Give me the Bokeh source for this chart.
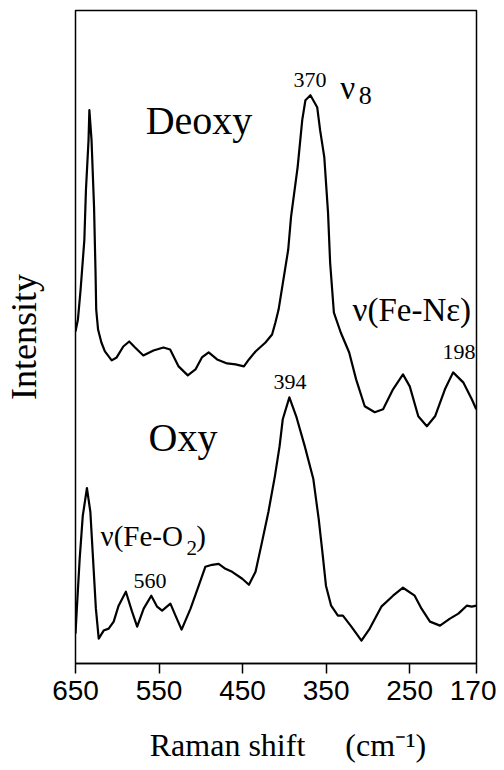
from bokeh.plotting import figure
from bokeh.models import Range1d, FixedTicker, Label
from bokeh.embed import file_html
from bokeh.resources import INLINE

# Raman shift (cm-1) and intensity (arbitrary units)
deoxy_shift = [650, 647.1, 643.9, 639.4, 637.5, 634.4, 633.4, 630.8, 627.8, 626, 625.2, 623, 619,
               614.8, 606.7, 600.7, 592.8, 585.7, 578.7, 568.8, 556.7, 544.7, 536.7, 526.6,
               515.6, 506.4, 498.7, 490.6, 480.5, 468.5, 458.4, 448.4, 442.4, 434.5, 422.6,
               414.7, 410.7, 406.9, 395.4, 392, 384.1, 378.6, 374.8, 368.8, 360.7, 357.2, 352.2,
               347.7, 345.2, 340.7, 332.5, 322.4, 314.1, 303.8, 291.8, 281.8, 269.9, 258, 249.9,
               239.7, 229.4, 219.6, 207.8, 198, 185.9, 175.6, 170.3]
deoxy_intensity = [333, 345, 375, 425, 475, 525, 555, 525, 458, 392, 355, 335, 322,
                   313, 304, 307, 318, 323, 317, 309, 314, 317, 315, 298,
                   289, 295, 307, 312, 305, 301, 300, 298, 305, 313, 322,
                   330, 342, 355, 415, 448, 498, 545, 565, 570, 558, 535, 508,
                   452, 402, 352, 332, 312, 285, 258, 252, 255, 275, 290, 278,
                   248, 238, 248, 275, 292, 282, 265, 255]

oxy_shift = [650, 648.4, 645, 641.3, 636.3, 632.2, 629, 625.6, 622.2, 616.3, 610.3, 604.3, 598.4,
             589.7, 582.3, 576.2, 568.4, 559.3, 552.3, 546.3, 536.4, 530.3, 523, 512.3, 502.5,
             494.6, 486.5, 478.6, 470.5, 462.5, 450.4, 442.4, 434.5, 426.7, 419.1, 411.3, 405.7,
             401.9, 394, 385.8, 375.6, 365.3, 358.9, 354.5, 350.2, 344, 335.9, 329.9, 319.8,
             307.7, 297.8, 283.9, 269.9, 258, 244, 235.8, 225.7, 213.7, 201.8, 191.7, 181.7,
             175.7, 170]
oxy_intensity = [30, 55, 105, 148, 176, 152, 105, 55, 25, 33, 35, 42, 58,
                 72, 52, 37, 55, 68, 57, 53, 60, 48, 34, 55, 78,
                 97, 99, 100, 95, 92, 85, 79, 92, 122, 152, 188, 218,
                 245, 267, 248, 218, 185, 145, 112, 78, 58, 48, 48, 37,
                 23, 35, 57, 68, 76, 68, 55, 42, 38, 45, 50, 58,
                 57, 58]

tick_values = [650, 550, 450, 350, 250, 170]

SERIF = "Liberation Serif"
SANS = "Liberation Sans"

p = figure(width=496, height=765, output_backend="svg", toolbar_location=None,
           x_range=Range1d(650, 170), y_range=Range1d(0, 655),
           min_border_left=75, min_border_right=20, min_border_top=10, min_border_bottom=100)
p.background_fill_color = "white"
p.border_fill_color = "white"
p.grid.visible = False
p.outline_line_color = "black"
p.outline_line_width = 1.5

ax = p.xaxis[0]
ax.ticker = FixedTicker(ticks=tick_values)
ax.axis_line_width = 1.5
ax.axis_line_color = "black"
ax.major_tick_line_width = 1.5
ax.major_tick_in = 0
ax.major_tick_out = 10
ax.minor_tick_line_color = None
ax.major_label_text_font = SANS
ax.major_label_text_font_size = "28px"
ax.major_label_text_color = "black"
ax.major_label_standoff = 7
ax.axis_label = "\u00a0\u00a0\u00a0Raman shift\u00a0\u00a0\u00a0\u00a0\u00a0(cm\u207b\u00b9)"
ax.axis_label_text_font = SERIF
ax.axis_label_text_font_size = "32px"
ax.axis_label_text_font_style = "normal"
ax.axis_label_text_color = "black"
ax.axis_label_standoff = 24

ay = p.yaxis[0]
ay.ticker = FixedTicker(ticks=[])
ay.axis_line_color = None
ay.major_tick_line_color = None
ay.minor_tick_line_color = None
ay.axis_label = "Intensity"
ay.axis_label_text_font = SERIF
ay.axis_label_text_font_size = "36px"
ay.axis_label_text_font_style = "normal"
ay.axis_label_text_color = "black"
ay.axis_label_standoff = 32

p.line(deoxy_shift, deoxy_intensity, line_color="black", line_width=2.2, line_join="round")
p.line(oxy_shift, oxy_intensity, line_color="black", line_width=2.2, line_join="round")


def lab(text, x, y, size, align="left", baseline="middle"):
    p.add_layout(Label(x=x, y=y, text=text, text_font=SERIF, text_font_size=f"{size}px",
                       text_align=align, text_baseline=baseline, text_color="black"))


lab("Deoxy", 566, 545, 40)
lab("370", 389, 585, 22)
lab("ν", 333, 577, 33, baseline="alphabetic")
lab("8", 311, 570, 26, baseline="alphabetic")
lab("ν(Fe-Nε)", 318.4, 355, 33)
lab("198", 210.7, 312, 22)
lab("394", 413, 282, 22)
lab("Oxy", 562.6, 227, 40)
lab("ν(Fe-O", 620, 128, 29)
lab("2", 517, 116, 21)
lab(")", 505.5, 128, 29)
lab("560", 580.6, 83, 22)

open("out.html", "w").write(file_html(p, INLINE))
